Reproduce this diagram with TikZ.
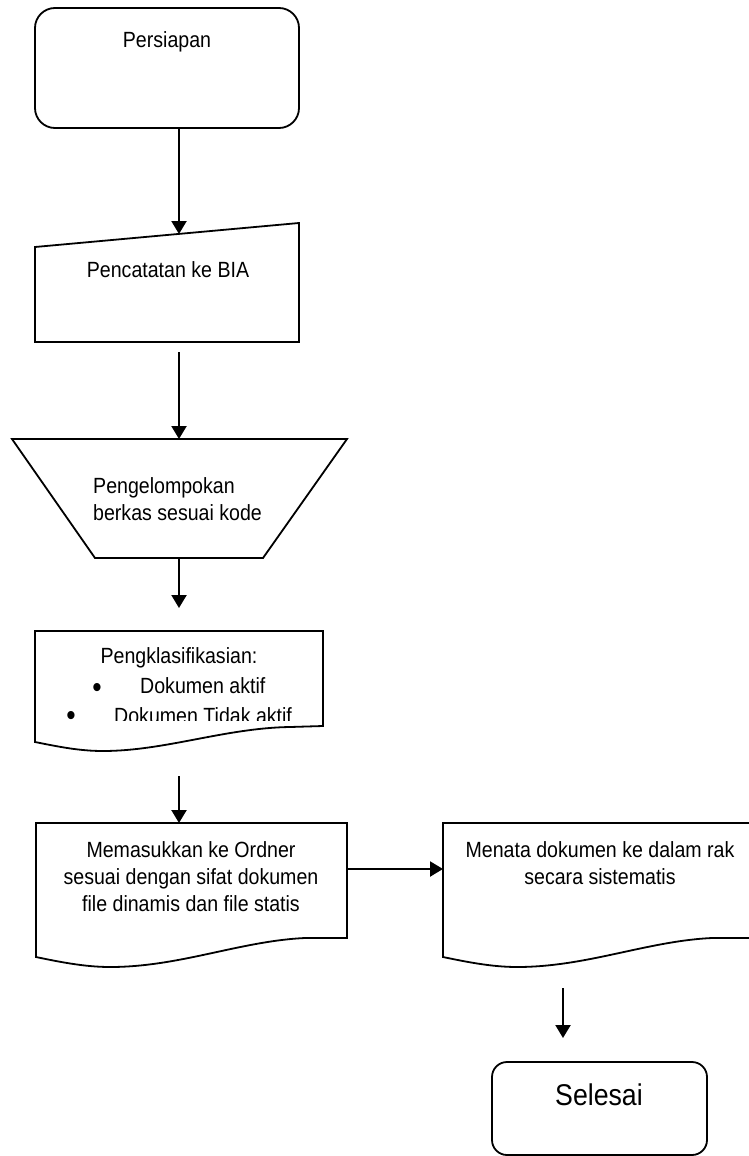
\documentclass[tikz,border=0pt]{standalone}
\usepackage{fontspec}
\setmainfont{Liberation Sans}[FakeStretch=0.89]
\usetikzlibrary{arrows.meta}
\begin{document}
\begin{tikzpicture}[x=1pt,y=-1pt,
  outline/.style={draw=black, line width=1.8pt, line join=miter},
  flow/.style={draw=black, line width=2.2pt, -{Triangle[length=13pt,width=15pt]}},
  txt/.style={font=\fontsize{22}{27}\selectfont, inner sep=0pt, text=black},
  dot/.style={font=\fontsize{30}{36}\selectfont, inner sep=0pt, text=black},
  bigtxt/.style={font=\fontsize{30}{36}\selectfont, inner sep=0pt, text=black}]

\path[use as bounding box] (0,0) rectangle (749,1156);
\clip (0,0) rectangle (749,1156);

% terminator: start
\node[outline, rounded corners=20pt, minimum width=264pt, minimum height=120pt,
      inner sep=0pt] (start) at (167,68) {};
\node[txt, anchor=base] (startlbl) at (167,48) {Persiapan};

% manual input
\draw[outline] (35,247) -- (299,223) -- (299,342) -- (35,342) -- cycle;
\node[txt, anchor=base] (input) at (168,277) {Pencatatan ke BIA};

% manual operation (trapezoid)
\draw[outline] (12,439) -- (347,439) -- (263,558) -- (95,558) -- cycle;
\node[txt, anchor=base west] (group1) at (93,493) {Pengelompokan};
\node[txt, anchor=base west] (group2) at (93,520) {berkas sesuai kode};

% document: classification
\draw[outline] (323,631) -- (35,631) -- (35,742)
  .. controls (60,747) and (80,751) .. (103,751)
  .. controls (165,751) and (225,728) .. (290,727) -- (323,726) -- cycle;
\node[txt, anchor=base] (klas) at (179,663) {Pengklasifikasian:};
\node[dot, anchor=base] (b1) at (97,697) {•};
\node[txt, anchor=base west] (k1) at (140,693) {Dokumen aktif};
\node[dot, anchor=base] (b2) at (71,725) {•};
\begin{scope}
  \clip (0,0) rectangle (749,720);
  \node[txt, anchor=base west] (k2) at (114,723) {Dokumen Tidak aktif};
\end{scope}

% document: filing into binders
\draw[outline] (347,823) -- (36,823) -- (36,957)
  .. controls (60,962) and (85,967) .. (110,967)
  .. controls (180,967) and (240,941) .. (305,938) -- (347,938) -- cycle;
\node[txt, anchor=base] (ord1) at (191,857) {Memasukkan ke Ordner};
\node[txt, anchor=base] (ord2) at (191,884) {sesuai dengan sifat dokumen};
\node[txt, anchor=base] (ord3) at (191,911) {file dinamis dan file statis};

% document: arranging on shelves
\draw[outline] (754,823) -- (443,823) -- (443,957)
  .. controls (467,962) and (492,967) .. (517,967)
  .. controls (587,967) and (647,941) .. (712,938) -- (754,938) -- cycle;
\node[txt, anchor=base] (rak1) at (600,857) {Menata dokumen ke dalam rak};
\node[txt, anchor=base] (rak2) at (600,884) {secara sistematis};

% terminator: end
\node[outline, rounded corners=15pt, minimum width=215pt, minimum height=93pt,
      inner sep=0pt] (finish) at (599.5,1108.5) {};
\node[bigtxt, anchor=base] (finishlbl) at (599,1105) {Selesai};

% connector end points
\coordinate (s-out) at (179,128);
\coordinate (in-in) at (179,234);
\coordinate (in-out) at (179,352);
\coordinate (grp-in) at (179,439);
\coordinate (grp-out) at (179,558);
\coordinate (kl-in) at (179,608);
\coordinate (kl-out) at (179,776);
\coordinate (ord-in) at (179,823);
\coordinate (ord-out) at (347,869);
\coordinate (rak-in) at (443,869);
\coordinate (rak-out) at (563,988);
\coordinate (fin-in) at (563,1038);

\draw[flow] (s-out) -- (in-in);
\draw[flow] (in-out) -- (grp-in);
\draw[flow] (grp-out) -- (kl-in);
\draw[flow] (kl-out) -- (ord-in);
\draw[flow] (ord-out) -- (rak-in);
\draw[flow] (rak-out) -- (fin-in);
\end{tikzpicture}
\end{document}
